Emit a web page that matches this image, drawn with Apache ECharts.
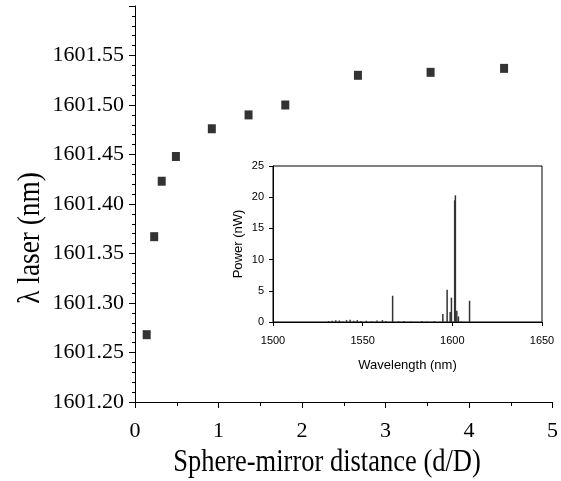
<!DOCTYPE html>
<html><head><meta charset="utf-8">
<script src="https://cdn.jsdelivr.net/npm/echarts@6/dist/echarts.min.js"></script>
<style>html,body{margin:0;padding:0;background:#fff}#c{width:561px;height:481px}</style>
</head><body><div id="c"></div>
<script>
// Main plot: sphere-mirror distance vs laser wavelength
const distance = [0.14, 0.23, 0.32, 0.49, 0.92, 1.36, 1.80, 2.67, 3.54, 4.42];
const lambdaLaser = [1601.268, 1601.367, 1601.423, 1601.448, 1601.476, 1601.490, 1601.500, 1601.530, 1601.533, 1601.537];
// Inset spectrum: wavelength (nm) and power (nW) of spectral lines
const specWavelength = [1531, 1533, 1535, 1537, 1539, 1541, 1543, 1545, 1547, 1549, 1552, 1555, 1558, 1561, 1563, 1566.7, 1570, 1573, 1577, 1583, 1586, 1590, 1594.7, 1597.1, 1598.8, 1599.5, 1601.3, 1601.7, 1602.5, 1603.4, 1605, 1609.6];
const specPower =      [0.15, 0.2, 0.3, 0.25, 0.1, 0.3, 0.35, 0.2, 0.3, 0.15, 0.2, 0.1, 0.25, 0.3, 0.15, 4.2, 0.1, 0.15, 0.1, 0.15, 0.1, 0.15, 1.3, 5.15, 1.6, 3.9, 19.5, 20.3, 1.8, 0.9, 0.1, 3.4];
const mainYTicks = [1601.20, 1601.60, 0.05];
const mainXTicks = [0, 5, 1];
const insetXTicks = [1500, 1650, 50];
const insetYTicks = [0, 25, 5];

const serif = 'Liberation Serif, Times New Roman, serif';
const sans = 'Liberation Sans, Arial, sans-serif';
const chart = echarts.init(document.getElementById('c'), null, {renderer: 'canvas'});
chart.setOption({
  animation: false,
  backgroundColor: '#fff',
  grid: [
    {left: 135, right: 7, top: 6, bottom: 79, show: false},
    {left: 273, right: 19, top: 166, bottom: 159, show: true, borderColor: '#000', borderWidth: 1, backgroundColor: 'transparent'}
  ],
  graphic: [
    {type: 'text', x: 31, y: 238, rotation: Math.PI / 2, scaleX: 1.05, scaleY: 1.22,
     style: {text: 'λ laser (nm)', font: '26px ' + serif, fill: '#000', align: 'center', verticalAlign: 'middle'}},
    {type: 'text', x: 327, y: 463, scaleX: 1, scaleY: 1.22,
     style: {text: 'Sphere-mirror distance (d/D)', font: '26.5px ' + serif, fill: '#000', align: 'center', verticalAlign: 'middle'}}
  ],
  xAxis: [
    {gridIndex: 0, type: 'value', min: mainXTicks[0], max: mainXTicks[1], interval: mainXTicks[2],
     axisLine: {lineStyle: {color: '#000', width: 1}},
     axisTick: {show: true, length: 6, inside: false, lineStyle: {color: '#000'}},
     minorTick: {show: true, splitNumber: 2, length: 4, lineStyle: {color: '#000'}},
     axisLabel: {fontFamily: serif, fontSize: 22, color: '#000', margin: 18},
     splitLine: {show: false}},
    {gridIndex: 1, type: 'value', min: insetXTicks[0], max: insetXTicks[1], interval: insetXTicks[2],
     name: 'Wavelength (nm)', nameLocation: 'middle', nameGap: 37,
     nameTextStyle: {fontFamily: sans, fontSize: 13, color: '#000'},
     axisLine: {onZero: false, lineStyle: {color: '#000', width: 1}},
     axisTick: {show: true, length: 4, lineStyle: {color: '#000'}},
     axisLabel: {fontFamily: sans, fontSize: 11, color: '#000', margin: 13, formatter: v => String(v)},
     splitLine: {show: false}},
  ],
  yAxis: [
    {gridIndex: 0, type: 'value', min: mainYTicks[0], max: mainYTicks[1], interval: mainYTicks[2],
     axisLine: {show: true, lineStyle: {color: '#000', width: 1}},
     axisTick: {show: true, length: 6, lineStyle: {color: '#000'}},
     minorTick: {show: true, splitNumber: 5, length: 3, lineStyle: {color: '#000'}},
     axisLabel: {fontFamily: serif, fontSize: 22, color: '#000', margin: 11, showMaxLabel: false,
       formatter: v => v.toFixed(2)},
     splitLine: {show: false}},
    {gridIndex: 1, type: 'value', min: insetYTicks[0], max: insetYTicks[1], interval: insetYTicks[2],
     name: 'Power (nW)', nameLocation: 'middle', nameGap: 28, nameRotate: 90,
     nameTextStyle: {fontFamily: sans, fontSize: 13, color: '#000'},
     axisLine: {show: true, onZero: false, lineStyle: {color: '#000', width: 1}},
     axisTick: {show: true, length: 4, lineStyle: {color: '#000'}},
     axisLabel: {fontFamily: sans, fontSize: 11, color: '#000', margin: 9},
     splitLine: {show: false}}
  ],
  series: [
    {type: 'scatter', xAxisIndex: 0, yAxisIndex: 0, symbol: 'rect', symbolSize: [8, 9],
     itemStyle: {color: '#000'},
     data: distance.map((d, i) => [d, lambdaLaser[i]])},
    {type: 'bar', xAxisIndex: 1, yAxisIndex: 1, barWidth: 1.5,
     itemStyle: {color: '#333'},
     data: specWavelength.map((w, i) => [w, specPower[i]])}
  ]
});
</script></body></html>
